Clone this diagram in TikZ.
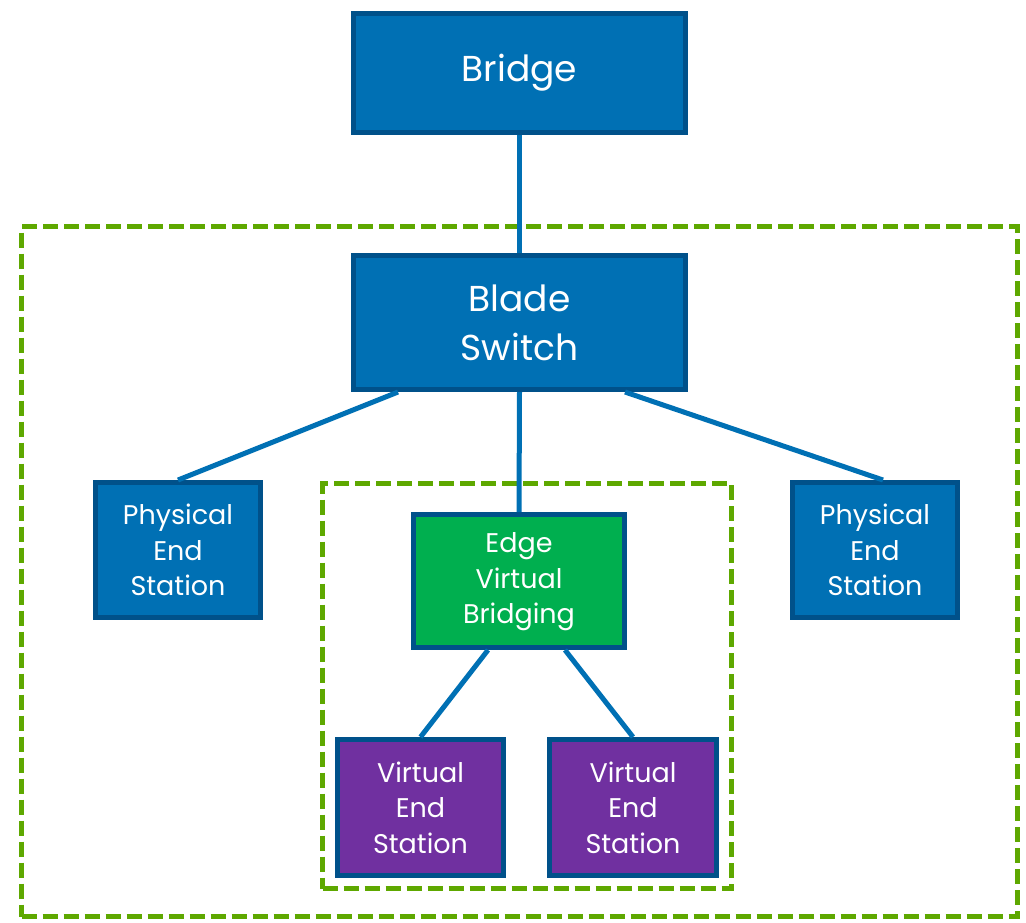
\documentclass[tikz,border=0pt]{standalone}
\usepackage{fontspec}
\setmainfont{Poppins}
\usetikzlibrary{calc}
\definecolor{boxblue}{HTML}{0070B4}
\definecolor{edgeblue}{HTML}{00518A}
\definecolor{evbgreen}{HTML}{00AF4F}
\definecolor{vpurple}{HTML}{7030A0}
\definecolor{dashgreen}{HTML}{5EA800}
\tikzset{
  x=1pt, y=-1pt,
  box/.style={draw=edgeblue, line width=5pt, rectangle, align=center, text=white, inner sep=0pt},
  bigtext/.style={font=\fontsize{36}{49}\selectfont},
  smalltext/.style={font=\fontsize{27}{35.5}\selectfont},
  group/.style={draw=dashgreen, line width=5pt, dash pattern=on 15pt off 6pt, rectangle, inner sep=0pt},
  link/.style={draw=boxblue, line width=5pt},
}
\begin{document}
\begin{tikzpicture}
\useasboundingbox (0,0) rectangle (1026,922);
\node[group, minimum width=996pt, minimum height=690pt] (outer) at (519.5,571.5) {};
\node[group, minimum width=409pt, minimum height=405pt] (inner) at (527,686) {};
\node[box, bigtext, fill=boxblue, minimum width=332pt, minimum height=119pt] (bridge) at (519.5,73) {\raisebox{-3pt}{Bridge}};
\node[box, bigtext, fill=boxblue, minimum width=332pt, minimum height=134pt] (blade) at (519.5,322.5) {Blade\\Switch};
\node[box, smalltext, fill=boxblue, minimum width=165pt, minimum height=135pt] (pl) at (178,550) {Physical\\End\\Station};
\node[box, smalltext, fill=boxblue, minimum width=165pt, minimum height=135pt] (pr) at (875,550) {Physical\\End\\Station};
\node[box, smalltext, fill=evbgreen, minimum width=211pt, minimum height=133pt] (evb) at (519,581) {\raisebox{-2.5pt}{\begin{tabular}{@{}c@{}}Edge\\Virtual\\Bridging\end{tabular}}};
\node[box, smalltext, fill=vpurple, minimum width=166pt, minimum height=136pt] (vl) at (420.5,807.5) {Virtual\\End\\Station};
\node[box, smalltext, fill=vpurple, minimum width=167pt, minimum height=136pt] (vr) at (633,807.5) {Virtual\\End\\Station};
\draw[link] (bridge.south) -- (blade.north);
\draw[link] ($(blade.south west)+(47,0)$) -- (pl.north);
\draw[link] (blade.south) -- (evb.north);
\draw[link] ($(blade.south east)+(-63,0)$) -- ($(pr.north)+(8,0)$);
\draw[link] ($(evb.south west)+(77,0)$) -- (vl.north);
\draw[link] ($(evb.south east)+(-62,0)$) -- (vr.north);
\end{tikzpicture}
\end{document}
